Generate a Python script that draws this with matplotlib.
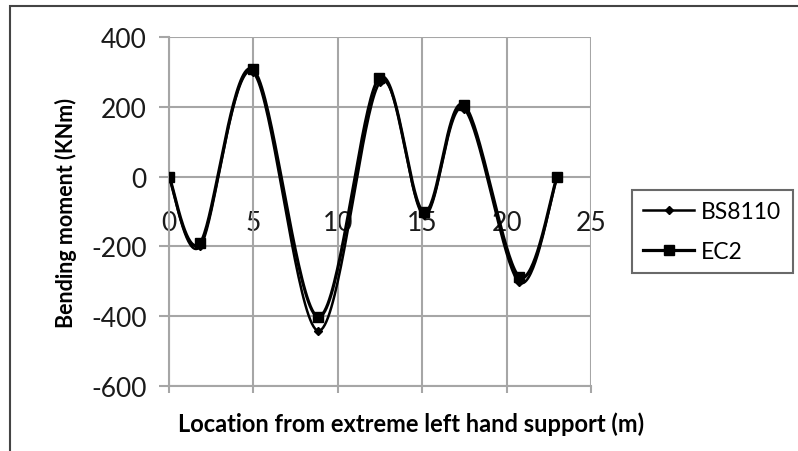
import numpy as np
import matplotlib.pyplot as plt
from matplotlib.patches import Rectangle

# support locations (m) and bending moments (KNm)
x_bs = [0, 1.85, 4.95, 8.85, 12.5, 15.1, 17.45, 20.75, 23.0]
m_bs = [0, -200, 300, -442, 270, -110, 195, -303, 0]
x_ec = [0, 1.85, 4.95, 8.85, 12.45, 15.1, 17.45, 20.75, 23.0]
m_ec = [0, -190, 308, -402, 282, -102, 206, -287, 0]

xticks = [0, 5, 10, 15, 20, 25]
yticks = [-600, -400, -200, 0, 200, 400]


def smooth(x, y, n=40):
    # Excel-style smoothed line: cubic bezier with Catmull-Rom control points
    p = np.column_stack([x, y]).astype(float)
    ext = np.vstack([p[0], p, p[-1]])
    out = []
    for i in range(len(p) - 1):
        p0, p1, p2, p3 = ext[i], ext[i + 1], ext[i + 2], ext[i + 3]
        c1 = p1 + (p2 - p0) / 6
        c2 = p2 - (p3 - p1) / 6
        t = np.linspace(0, 1, n, endpoint=False)[:, None]
        seg = ((1 - t) ** 3) * p1 + 3 * ((1 - t) ** 2) * t * c1 + 3 * (1 - t) * t ** 2 * c2 + t ** 3 * p2
        out.append(seg)
    out.append(p[-1:])
    out = np.vstack(out)
    marks = list(range(0, n * (len(p) - 1) + 1, n))
    return out[:, 0], out[:, 1], marks


plt.rcParams['font.family'] = ['Lato', 'DejaVu Sans']
plt.rcParams['axes.unicode_minus'] = False

fig = plt.figure(figsize=(7.98, 4.52), dpi=100)
ax = fig.add_axes([169 / 798, 1 - 387 / 452, 422 / 798, 349 / 452])

# outer chart frame
fig.patches.append(Rectangle((10 / 798, -0.1), 1.2, 1.1 - 7 / 452, transform=fig.transFigure,
                             fill=False, edgecolor='#444444', linewidth=1.5))

sx, sy, mk = smooth(x_bs, m_bs)
ax.plot(sx, sy, color='black', linewidth=1.8, marker='D', markersize=4, markevery=mk, label='BS8110', zorder=3)
sx, sy, mk = smooth(x_ec, m_ec)
ax.plot(sx, sy, color='black', linewidth=2.3, marker='s', markersize=7, markevery=mk, label='EC2', zorder=4)

ax.set_xlim(0, 25)
ax.set_ylim(-600, 400)
ax.set_xticks(xticks)
ax.set_yticks(yticks)
ax.grid(True, color='#a6a6a6', linewidth=1.5)
ax.set_axisbelow(True)
for s in ['top', 'right']:
    ax.spines[s].set_visible(False)
ax.spines['left'].set_color('#a6a6a6')
ax.spines['left'].set_linewidth(1.5)
ax.spines['bottom'].set_color('#a6a6a6')
ax.spines['bottom'].set_linewidth(1.5)
ax.tick_params(axis='y', length=7, width=1.5, color='#a6a6a6', labelsize=19, labelcolor='#1a1a1a', pad=9)
ax.tick_params(axis='x', length=5, width=1.5, color='#a6a6a6', labelbottom=False)

# category labels sit under the zero line
sec = ax.secondary_xaxis(0.6)
sec.set_xticks(xticks)
sec.xaxis.set_ticks_position('bottom')
sec.spines['bottom'].set_visible(False)
sec.spines['top'].set_visible(False)
sec.tick_params(length=0, labelsize=19, labelcolor='#1a1a1a', pad=24, labelbottom=True, labeltop=False)

ax.set_ylabel('Bending moment (KNm)', fontsize=15.5, fontweight='bold', labelpad=10)
ax.set_xlabel('Location from extreme left hand support (m)', fontsize=17, fontweight='bold')
ax.xaxis.set_label_coords(0.573, -0.072)

leg = ax.legend(loc='center left', bbox_to_anchor=(632 / 798, 1 - 281 / 452, 161 / 798, 97 / 452),
                bbox_transform=fig.transFigure, mode='expand', fontsize=16.5, frameon=True, fancybox=False,
                handlelength=2.2, handletextpad=0.3, borderaxespad=0, borderpad=0.5, labelspacing=0.8)
leg.get_frame().set_edgecolor('#444444')
leg.get_frame().set_linewidth(1.5)

fig.savefig('out.png', dpi=100)
